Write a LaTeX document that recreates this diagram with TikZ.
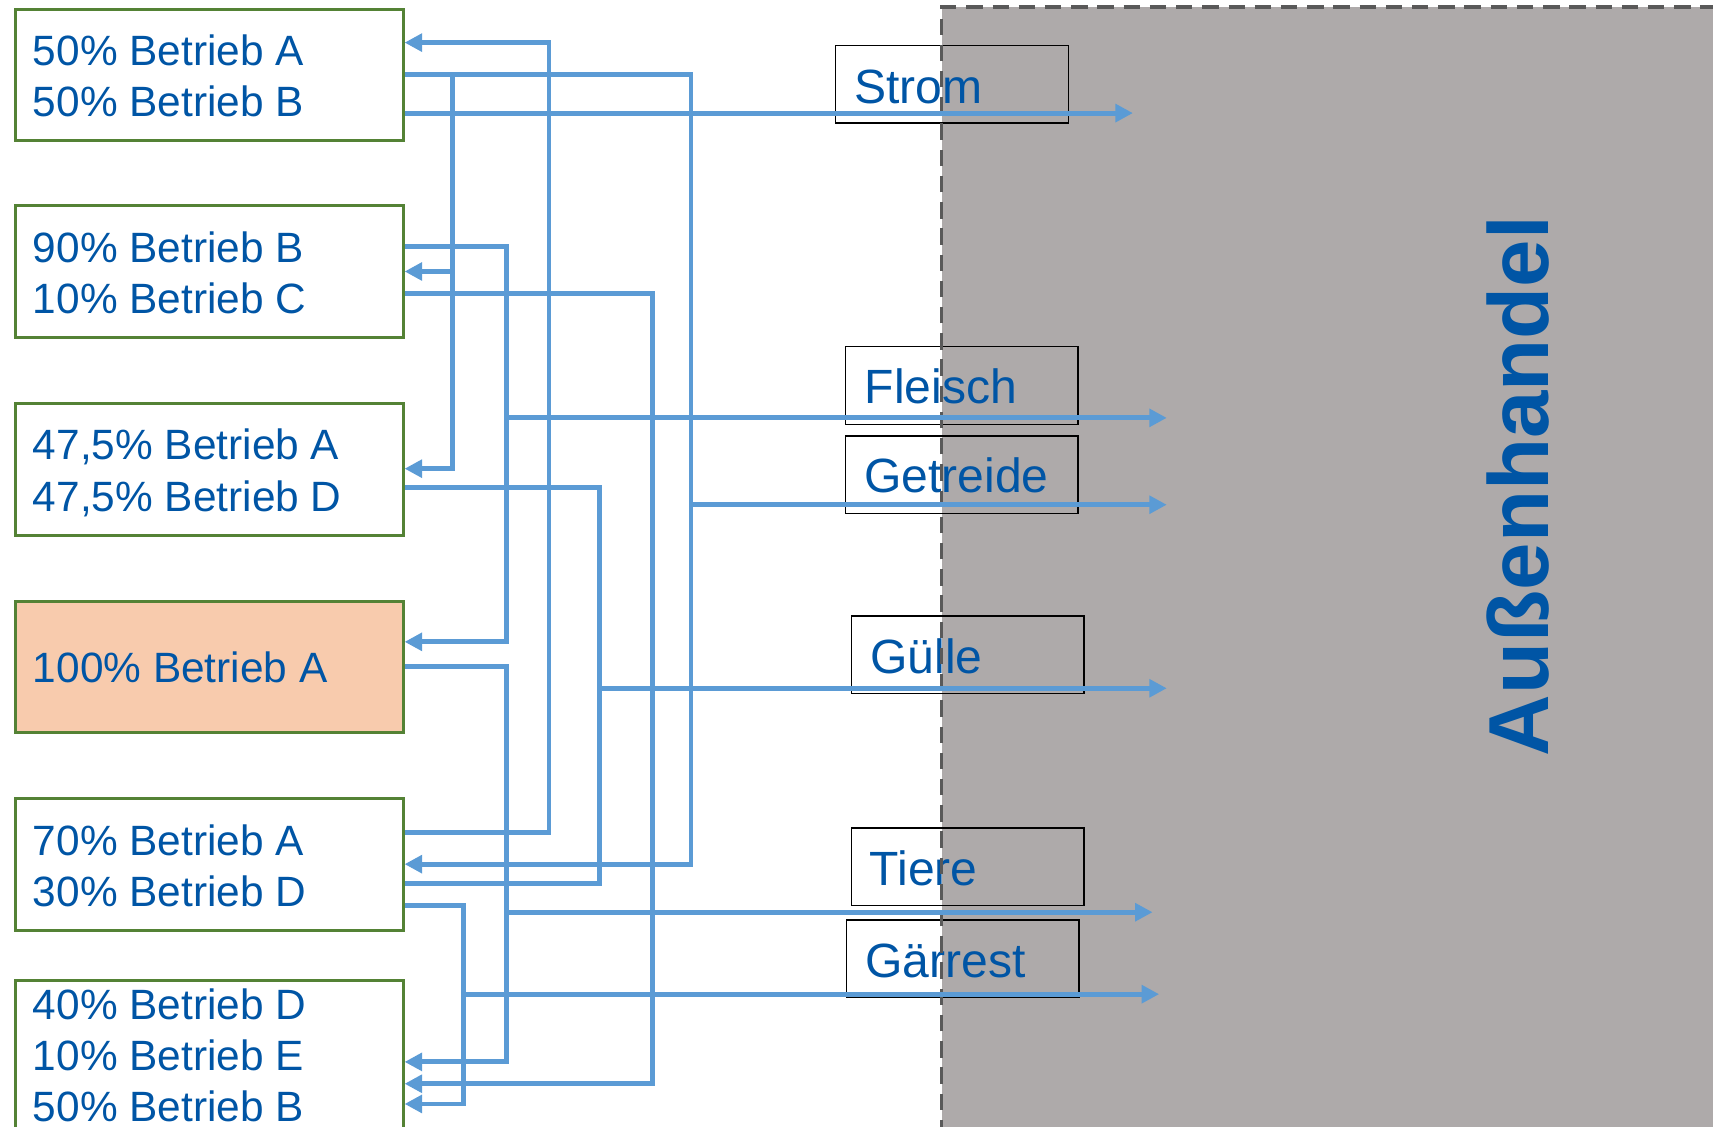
\documentclass[tikz,border=0pt]{standalone}
\usepackage{fontspec}
\setmainfont{Liberation Sans}
\usetikzlibrary{arrows.meta}
\definecolor{flowblue}{RGB}{91,155,213}
\definecolor{txtblue}{RGB}{0,85,165}
\definecolor{boxgreen}{RGB}{84,130,53}
\definecolor{peach}{RGB}{248,203,173}
\definecolor{areagray}{RGB}{174,170,170}
\definecolor{dashgray}{RGB}{89,89,89}
\begin{document}
\begin{tikzpicture}[x=1pt,y=-1pt,
  firm/.style={draw=boxgreen, line width=2.7pt, minimum width=354.5pt, minimum height=120.5pt, inner sep=0pt},
  lbl/.style={draw=black, line width=1.3pt, minimum width=213pt, minimum height=71pt, inner sep=0pt},
  ftxt/.style={text=txtblue, font=\fontsize{38.8}{46}\selectfont, anchor=base west, inner sep=0pt},
  ltxt/.style={text=txtblue, font=\fontsize{44}{50}\selectfont, anchor=base west, inner sep=0pt},
  flow/.style={draw=flowblue, line width=4.5pt, line join=miter},
  arrowend/.style={-{Triangle[length=16pt,width=16pt]}}
]
\useasboundingbox (0,0) rectangle (1568,1031);
\clip (0,0) rectangle (1568,1031);

% Aussenhandel area
\fill[areagray] (862,6.5) rectangle (1590,1050);

% firm boxes
\node[firm] (b1) at (191.75,68.7) {};
\node[firm] (b2) at (191.75,248.5) {};
\node[firm] (b3) at (191.75,429.5) {};
\node[firm, fill=peach] (b4) at (191.75,610.5) {};
\node[firm] (b5) at (191.75,791.5) {};
\node[firm, minimum height=163pt] (b6) at (191.75,978.8) {};

\node[ftxt] (t1a) at (30,60) {50\% Betrieb A};
\node[ftxt] (t1b) at (30,106.5) {50\% Betrieb B};
\node[ftxt] (t2a) at (30,240) {90\% Betrieb B};
\node[ftxt] (t2b) at (30,287) {10\% Betrieb C};
\node[ftxt] (t3a) at (30,421) {47,5\% Betrieb A};
\node[ftxt] (t3b) at (30,468) {47,5\% Betrieb D};
\node[ftxt] (t4a) at (30,625) {100\% Betrieb A};
\node[ftxt] (t5a) at (30,783) {70\% Betrieb A};
\node[ftxt] (t5b) at (30,829.5) {30\% Betrieb D};
\node[ftxt] (t6a) at (30,933) {40\% Betrieb D};
\node[ftxt] (t6b) at (30,979.5) {10\% Betrieb E};
\node[ftxt] (t6c) at (30,1026.5) {50\% Betrieb B};

% product labels
\node[lbl] (strom) at (871.5,77.1) {};
\node[lbl] (fleisch) at (880.2,352.9) {};
\node[lbl] (getreide) at (880.2,434.4) {};
\node[lbl] (guelle) at (885.8,599.5) {};
\node[lbl] (tiere) at (885.8,793.5) {};
\node[lbl] (gaerrest) at (881.3,877.5) {};

\node[ltxt] (strom-t) at (782,95) {Strom};
\node[ltxt] (fleisch-t) at (791.5,369.5) {Fleisch};
\node[ltxt] (getreide-t) at (791,451) {Getreide};
\node[ltxt] (guelle-t) at (796.5,616.5) {Gülle};
\node[ltxt] (tiere-t) at (796,810.5) {Tiere};
\node[ltxt] (gaerrest-t) at (792,894.5) {Gärrest};

% dashed border
\draw[dashgray, line width=3pt, dash pattern=on 15pt off 9pt] (862,1040) -- (862,6.5) -- (1590,6.5);

% coordinates
\coordinate (r633t) at (632.5,68);
\coordinate (r633b) at (632.5,791);
\coordinate (r414t) at (414,68);
\coordinate (r414m) at (414,248.5);
\coordinate (r414b) at (414,429);
\coordinate (gtr) at (632.5,462);
\coordinate (gtrEnd) at (1068,462);
\coordinate (stromEnd) at (1037,103.5);
\coordinate (a463t) at (463.5,226);
\coordinate (a463b) at (463.5,587.5);
\coordinate (fl) at (463.5,382.5);
\coordinate (flEnd) at (1068,382.5);
\coordinate (c597t) at (597.5,268.5);
\coordinate (c597b) at (597.5,992);
\coordinate (d549t) at (548.5,446);
\coordinate (d549b) at (548.5,809);
\coordinate (gu) at (548.5,630);
\coordinate (guEnd) at (1068,630);
\coordinate (e463t) at (463.5,610);
\coordinate (e463b) at (463.5,972);
\coordinate (ti) at (463.5,835);
\coordinate (tiEnd) at (1055,835);
\coordinate (f502b) at (502.5,762);
\coordinate (f502t) at (502.5,39);
\coordinate (g424t) at (424.5,829);
\coordinate (g424b) at (424.5,1010.5);
\coordinate (ga) at (424.5,910);
\coordinate (gaEnd) at (1061,910);

% connectors
\draw[flow, arrowend] (b1.east |- stromEnd) -- (stromEnd);
\draw[flow, arrowend] (b1.east |- r633t) -- (r633t) -- (r633b) -- (b5.east |- r633b);
\draw[flow, arrowend] (r414t) -- (r414b) -- (b3.east |- r414b);
\draw[flow, arrowend] (r414m) -- (b2.east |- r414m);
\draw[flow, arrowend] (gtr) -- (gtrEnd);
\draw[flow, arrowend] (b2.east |- a463t) -- (a463t) -- (a463b) -- (b4.east |- a463b);
\draw[flow, arrowend] (fl) -- (flEnd);
\draw[flow, arrowend] (b2.east |- c597t) -- (c597t) -- (c597b) -- (b6.east |- c597b);
\draw[flow] (b3.east |- d549t) -- (d549t) -- (d549b) -- (b5.east |- d549b);
\draw[flow, arrowend] (gu) -- (guEnd);
\draw[flow, arrowend] (b4.east |- e463t) -- (e463t) -- (e463b) -- (b6.east |- e463b);
\draw[flow, arrowend] (ti) -- (tiEnd);
\draw[flow, arrowend] (b5.east |- f502b) -- (f502b) -- (f502t) -- (b1.east |- f502t);
\draw[flow, arrowend] (b5.east |- g424t) -- (g424t) -- (g424b) -- (b6.east |- g424b);
\draw[flow, arrowend] (ga) -- (gaEnd);

% title
\node[rotate=90, anchor=base, text=txtblue, font=\fontsize{78}{80}\selectfont\bfseries, inner sep=0pt] (ah) at (1417,445) {Außenhandel};
\end{tikzpicture}
\end{document}
